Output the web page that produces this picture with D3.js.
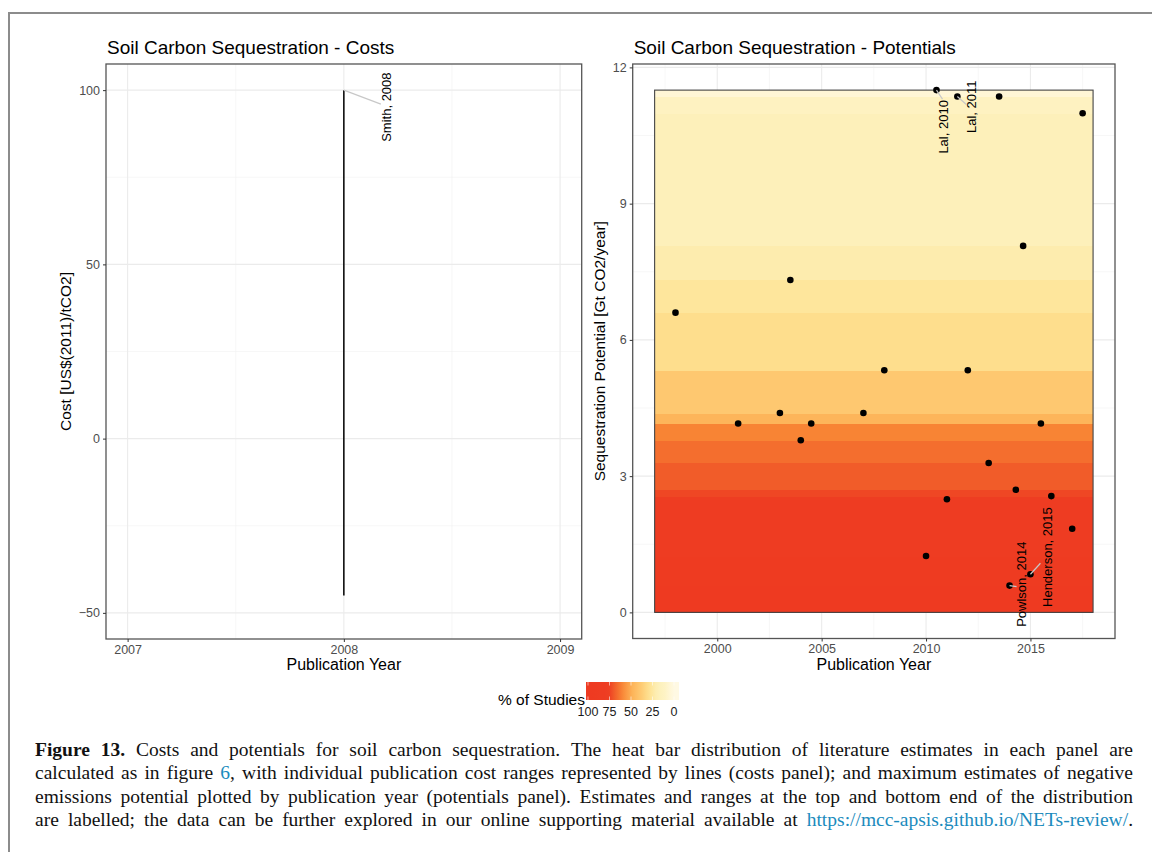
<!DOCTYPE html>
<html>
<head>
<meta charset="utf-8">
<script src="https://cdn.jsdelivr.net/npm/d3@7"></script>
<style>
  body { margin: 0; background: #fff; }
  svg { display: block; }
</style>
</head>
<body>
<svg width="1152" height="852"></svg>
<script>

var svg = d3.select("svg"),
    width = +svg.attr("width"),
    height = +svg.attr("height");

// costs panel: one publication with a cost range
var costYears = [2008];
var costLow = [-45];
var costHigh = [100];
var costNames = ["Smith, 2008"];

// potentials panel: max estimate per publication
var potYears = [2010.5, 2011.5, 2013.5, 2017.5, 2014.65, 2003.5, 1998, 2008, 2012, 2003, 2007,
                2001, 2004.5, 2015.5, 2004, 2013, 2014.3, 2011, 2016, 2017, 2010, 2015, 2014];
var potValues = [11.5, 11.36, 11.36, 10.99, 8.07, 7.32, 6.6, 5.33, 5.33, 4.39, 4.39,
                 4.16, 4.16, 4.16, 3.79, 3.29, 2.7, 2.49, 2.56, 1.84, 1.24, 0.84, 0.59];
var potNames = ["Lal, 2010", "Lal, 2011", "Powlson, 2014", "Henderson, 2015"];
var potNameIdx = [0, 1, 22, 21];
var heatYears = [1997, 2018];

// ticks
var costXTicks = [2007, 2008, 2009];
var costYTicks = [-50, 0, 50, 100];
var potXTicks = [2000, 2005, 2010, 2015];
var potYTicks = [0, 3, 6, 9, 12];
var legendTicks = [100, 75, 50, 25, 0];

// colour ramp for "% of Studies"
var heatPct = [0, 10, 20, 26, 30, 39, 48, 61, 65, 70, 76, 100];
var heatCols = ["#fff9e3", "#fef3c6", "#fdefb6", "#fee69c", "#fedf8e", "#fec870",
                "#fdb55a", "#f88434", "#f46f2e", "#f15a29", "#ee3d22", "#ee3a21"];

// label placement (px): text offset dx,dy and leader end sx,sy relative to the point
var costNudge = [[42.6, -17.7, 37, 14]];
var potNudge = [[7, 10, 6, 9], [14.5, -16, 9, 8], [12, -44, 7, 1], [17, -67, 10, -11]];

var sans = "'Liberation Sans', Arial, sans-serif";
var colour = d3.scaleLinear().domain(heatPct).range(heatCols).clamp(true);

var costX = d3.scaleLinear().domain([2006.9, 2009.1]).range([106, 581.7]),
    costY = d3.scaleLinear().domain([-57.5, 107.5]).range([639, 64]),
    potX = d3.scaleLinear().domain([1995.95, 2019.05]).range([632.7, 1115]),
    potY = d3.scaleLinear().domain([-0.575, 12.075]).range([638.5, 64]);

// outer figure frame (only left and top edges are in view)
svg.append("path")
    .attr("d", "M9," + height + "V13H" + width)
    .attr("fill", "none")
    .attr("stroke", "#8c8c8c")
    .attr("stroke-width", 2);

function minors(ticks) {
  var step = ticks[1] - ticks[0], out = [];
  out.push(ticks[0] - step / 2);
  ticks.forEach(t => out.push(t + step / 2));
  return out;
}

function drawGrid(g, x, y, xt, yt) {
  var x0 = x.range()[0], x1 = x.range()[1], y0 = y.range()[0], y1 = y.range()[1];
  minors(yt).filter(v => y(v) > y1 && y(v) < y0).forEach(v => {
    g.append("line").attr("x1", x0).attr("x2", x1).attr("y1", y(v)).attr("y2", y(v))
      .attr("stroke", "#f2f2f2").attr("stroke-width", 0.6);
  });
  minors(xt).filter(v => x(v) > x0 && x(v) < x1).forEach(v => {
    g.append("line").attr("y1", y0).attr("y2", y1).attr("x1", x(v)).attr("x2", x(v))
      .attr("stroke", "#f2f2f2").attr("stroke-width", 0.6);
  });
  yt.forEach(v => {
    g.append("line").attr("x1", x0).attr("x2", x1).attr("y1", y(v)).attr("y2", y(v))
      .attr("stroke", "#ebebeb").attr("stroke-width", 1.1);
  });
  xt.forEach(v => {
    g.append("line").attr("y1", y0).attr("y2", y1).attr("x1", x(v)).attr("x2", x(v))
      .attr("stroke", "#ebebeb").attr("stroke-width", 1.1);
  });
}

function drawFrame(g, x, y, xt, yt, title, ytitle, ytitleX) {
  var x0 = x.range()[0], x1 = x.range()[1], y0 = y.range()[0], y1 = y.range()[1];
  g.append("rect")
      .attr("x", x0).attr("y", y1)
      .attr("width", x1 - x0).attr("height", y0 - y1)
      .attr("fill", "none").attr("stroke", "#555").attr("stroke-width", 1.3);

  var ax = g.append("g").attr("transform", "translate(0," + y0 + ")")
      .call(d3.axisBottom(x).tickValues(xt).tickFormat(d3.format("d")).tickSize(3).tickPadding(3));
  var ay = g.append("g").attr("transform", "translate(" + x0 + ",0)")
      .call(d3.axisLeft(y).tickValues(yt).tickFormat(d3.format("d")).tickSize(3).tickPadding(3));
  [ax, ay].forEach(a => {
    a.select(".domain").remove();
    a.selectAll(".tick line").attr("stroke", "#333");
    a.selectAll(".tick text").attr("fill", "#4d4d4d")
      .style("font-family", sans).style("font-size", "12.5px");
  });

  g.append("text")
      .attr("x", x0 + 1).attr("y", 54)
      .style("font-family", sans).style("font-size", "19px")
      .text(title);
  g.append("text")
      .attr("x", (x0 + x1) / 2).attr("y", 670)
      .attr("text-anchor", "middle")
      .style("font-family", sans).style("font-size", "16px")
      .text("Publication Year");
  g.append("text")
      .attr("transform", "translate(" + ytitleX + "," + ((y0 + y1) / 2) + ") rotate(-90)")
      .attr("text-anchor", "middle").attr("dy", "0.35em")
      .style("font-family", sans).style("font-size", "15.5px")
      .text(ytitle);
}

function drawLabel(g, px, py, nudge, name) {
  g.append("line")
      .attr("x1", px).attr("y1", py)
      .attr("x2", px + nudge[2]).attr("y2", py + nudge[3])
      .attr("stroke", "#c8c8c8").attr("stroke-width", 1.2);
  g.append("text")
      .attr("transform", "translate(" + (px + nudge[0]) + "," + (py + nudge[1]) + ") rotate(-90)")
      .attr("text-anchor", "end").attr("dy", "0.35em")
      .style("font-family", sans).style("font-size", "13px")
      .text(name);
}

// ---- costs panel
var gc = svg.append("g");
drawGrid(gc, costX, costY, costXTicks, costYTicks);
costYears.forEach((yr, i) => {
  gc.append("line")
      .attr("x1", costX(yr)).attr("x2", costX(yr))
      .attr("y1", costY(costLow[i])).attr("y2", costY(costHigh[i]))
      .attr("stroke", "#000").attr("stroke-width", 1.5);
  drawLabel(gc, costX(yr), costY(costHigh[i]), costNudge[i], costNames[i]);
});
drawFrame(gc, costX, costY, costXTicks, costYTicks,
  "Soil Carbon Sequestration - Costs", "Cost [US$(2011)/tCO2]", 66);

// ---- potentials panel
var gp = svg.append("g");
drawGrid(gp, potX, potY, potXTicks, potYTicks);

// heat bar: share of studies whose estimate reaches each level
var n = potValues.length;
var levels = [0].concat(Array.from(new Set(potValues)).sort(d3.ascending));
var bands = d3.pairs(levels).map(p => ({
  lo: p[0], hi: p[1],
  pct: potValues.filter(v => v >= p[1] - 1e-9).length / n * 100
}));
gp.selectAll("rect.band")
  .data(bands)
  .enter().append("rect")
    .attr("class", "band")
    .attr("x", potX(heatYears[0]))
    .attr("width", potX(heatYears[1]) - potX(heatYears[0]))
    .attr("y", d => potY(d.hi))
    .attr("height", d => potY(d.lo) - potY(d.hi) + 0.5)
    .attr("fill", d => colour(d.pct))
    .attr("shape-rendering", "crispEdges");
gp.append("rect")
    .attr("x", potX(heatYears[0])).attr("y", potY(d3.max(potValues)))
    .attr("width", potX(heatYears[1]) - potX(heatYears[0]))
    .attr("height", potY(0) - potY(d3.max(potValues)))
    .attr("fill", "none").attr("stroke", "#444").attr("stroke-width", 1.1);

gp.selectAll("circle")
  .data(potValues)
  .enter().append("circle")
    .attr("cx", (d, i) => potX(potYears[i]))
    .attr("cy", d => potY(d))
    .attr("r", 3.3)
    .attr("fill", "#000");

potNameIdx.forEach((k, i) => {
  drawLabel(gp, potX(potYears[k]), potY(potValues[k]), potNudge[i], potNames[i]);
});
drawFrame(gp, potX, potY, potXTicks, potYTicks,
  "Soil Carbon Sequestration - Potentials", "Sequestration Potential [Gt CO2/year]", 600);

// ---- legend
var legX = d3.scaleLinear().domain([100, 0]).range([588, 674]);
var barX0 = 586, barX1 = 679, barY0 = 682, barY1 = 700;
var grad = svg.append("defs").append("linearGradient")
    .attr("id", "heatgrad").attr("x1", 0).attr("x2", 1).attr("y1", 0).attr("y2", 0);
d3.range(0, 1.0001, 0.05).forEach(t => {
  var p = legX.invert(barX0 + t * (barX1 - barX0));
  grad.append("stop").attr("offset", t).attr("stop-color", colour(p));
});
var gl = svg.append("g");
gl.append("rect")
    .attr("x", barX0).attr("y", barY0)
    .attr("width", barX1 - barX0).attr("height", barY1 - barY0)
    .attr("fill", "url(#heatgrad)");
legendTicks.forEach(t => {
  [[barY0, barY0 + 3.5], [barY1 - 3.5, barY1]].forEach(s => {
    gl.append("line").attr("x1", legX(t)).attr("x2", legX(t))
      .attr("y1", s[0]).attr("y2", s[1])
      .attr("stroke", "#fff").attr("stroke-opacity", 0.7).attr("stroke-width", 0.8);
  });
  gl.append("text")
      .attr("x", legX(t)).attr("y", 716)
      .attr("text-anchor", "middle")
      .style("font-family", sans).style("font-size", "12.5px").attr("fill", "#1a1a1a")
      .text(t);
});
gl.append("text")
    .attr("x", 585).attr("y", 705)
    .attr("text-anchor", "end")
    .style("font-family", sans).style("font-size", "15.5px")
    .text("% of Studies");

// ---- caption, justified word by word
var captionLines = [
  [{s: "Figure 13.", c: "bold"}, {s: " Costs and potentials for soil carbon sequestration. The heat bar distribution of literature estimates in each panel are"}],
  [{s: "calculated as in figure "}, {s: "6", c: "link"}, {s: ", with individual publication cost ranges represented by lines (costs panel); and maximum estimates of negative"}],
  [{s: "emissions potential plotted by publication year (potentials panel). Estimates and ranges at the top and bottom end of the distribution"}],
  [{s: "are labelled; the data can be further explored in our online supporting material available at "}, {s: "https://mcc-apsis.github.io/NETs-review/", c: "link"}, {s: "."}]
];
var capLeft = 35, capRight = 1133, capY = 756, capStep = 23.4;

function toWords(runs) {
  var words = [[]];
  runs.forEach(r => {
    r.s.split(" ").forEach((piece, j) => {
      if (j > 0) words.push([]);
      if (piece.length) words[words.length - 1].push({s: piece, c: r.c});
    });
  });
  return words.filter(w => w.length);
}

var gcap = svg.append("g")
    .style("font-family", "'Liberation Serif', 'Times New Roman', serif")
    .style("font-size", "19.5px");
captionLines.forEach((runs, li) => {
  var words = toWords(runs);
  var nodes = words.map(w => {
    var t = gcap.append("text").attr("y", capY + li * capStep);
    w.forEach(p => {
      t.append("tspan").text(p.s)
        .attr("fill", p.c === "link" ? "#1b8bbd" : "#111")
        .style("font-weight", p.c === "bold" ? "bold" : null);
    });
    return t;
  });
  var widths = nodes.map(t => t.node().getComputedTextLength());
  var gap = (capRight - capLeft - d3.sum(widths)) / (nodes.length - 1);
  var x = capLeft;
  nodes.forEach((t, i) => {
    t.attr("x", x);
    x += widths[i] + gap;
  });
});

</script>
</body>
</html>
